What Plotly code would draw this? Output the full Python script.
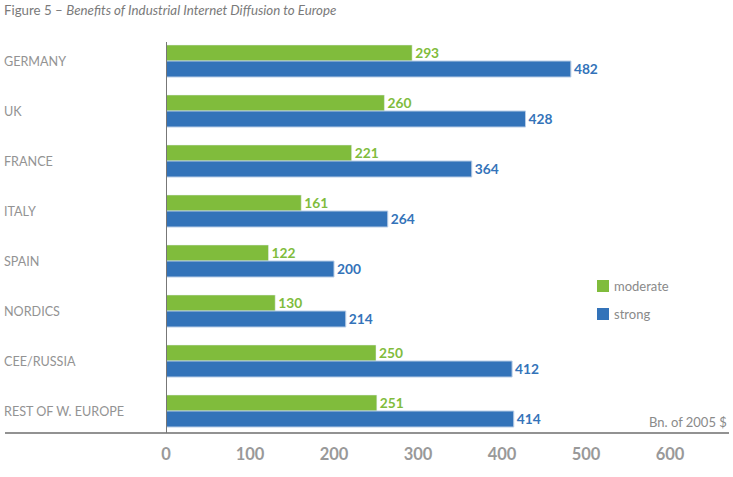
import plotly.graph_objects as go

categories = ["GERMANY", "UK", "FRANCE", "ITALY", "SPAIN", "NORDICS", "CEE/RUSSIA", "REST OF W. EUROPE"]
moderate = [293, 260, 221, 161, 122, 130, 250, 251]
strong = [482, 428, 364, 264, 200, 214, 412, 414]
tick_vals = [0, 100, 200, 300, 400, 500, 600]
series_names = ["moderate", "strong"]

GREEN = "#80bc3c"
BLUE = "#3373b9"
GRAY = "#8a8a8a"

W, H = 733, 477
L, R, T, B = 166, 3, 36, 41
pw = W - L - R
ph = H - T - B


def py(pix):
    return (T + ph - pix) / ph


def px(pix):
    return (pix - L) / pw


fig = go.Figure()
fig.add_trace(go.Bar(
    y=categories, x=moderate, orientation="h", name=series_names[0],
    marker=dict(color=GREEN), text=[str(v) for v in moderate],
    textposition="outside", cliponaxis=False,
    textfont=dict(color=GREEN, size=15.5, family="Lato", weight="bold"),
))
fig.add_trace(go.Bar(
    y=categories, x=strong, orientation="h", name=series_names[1],
    marker=dict(color=BLUE, line=dict(color="#b8cde6", width=1)), text=[str(v) for v in strong],
    textposition="outside", cliponaxis=False,
    textfont=dict(color=BLUE, size=15.5, family="Lato", weight="bold"),
))

annotations = []
for c in categories:
    annotations.append(dict(
        x=px(2), xref="paper", xanchor="left",
        y=c, yref="y", yanchor="middle", showarrow=False,
        text=c, font=dict(size=12.6, color="#939393", family="Lato"),
    ))
annotations.append(dict(
    x=px(2), xref="paper", xanchor="left",
    y=py(10), yref="paper", yanchor="middle", showarrow=False,
    text="Figure 5 – <i>Benefits of Industrial Internet Diffusion to Europe</i>",
    font=dict(size=13.3, color="#7a7a7a", family="Lato"),
))
annotations.append(dict(
    x=px(729), xref="paper", xanchor="right",
    y=py(422), yref="paper", yanchor="middle", showarrow=False,
    text="Bn. of 2005 &#36;", font=dict(size=13, color=GRAY, family="Lato"),
))

# manual legend
legend_items = [(series_names[0], GREEN, 286), (series_names[1], BLUE, 314)]
shapes = []
for name, col, yc in legend_items:
    shapes.append(dict(type="rect", xref="paper", yref="paper",
                       x0=px(597), x1=px(609), y0=py(yc + 6), y1=py(yc - 6),
                       fillcolor=col, line=dict(width=0)))
    annotations.append(dict(x=px(612), xref="paper", xanchor="left",
                            y=py(yc), yref="paper", yanchor="middle", showarrow=False,
                            text=name, font=dict(size=13, color=GRAY, family="Lato")))

shapes += [
    dict(type="line", xref="paper", yref="paper", x0=px(5), x1=px(729),
         y0=py(433), y1=py(433), line=dict(color="#6e6e6e", width=1.5)),
    dict(type="line", xref="x", yref="paper", x0=0, x1=0,
         y0=py(433), y1=py(42), line=dict(color="#777777", width=2)),
]

fig.update_layout(
    width=W, height=H,
    margin=dict(l=L, r=R, t=T, b=B),
    paper_bgcolor="white", plot_bgcolor="white",
    barmode="group", bargap=0.36, bargroupgap=0,
    font=dict(family="Lato", color=GRAY),
    showlegend=False,
    xaxis=dict(range=[0, pw / 0.84], tickvals=tick_vals, showgrid=False, zeroline=False,
               showline=False, ticks="", tickfont=dict(size=16.5, color="#999999", family="Lato", weight="bold"),
               ticklabelstandoff=6),
    yaxis=dict(autorange="reversed", showticklabels=False, showgrid=False, zeroline=False,
               showline=False, ticks=""),
    annotations=annotations, shapes=shapes,
)

fig.write_html("out.html", post_script="document.body.style.margin='0';",
               config={"displayModeBar": False})
